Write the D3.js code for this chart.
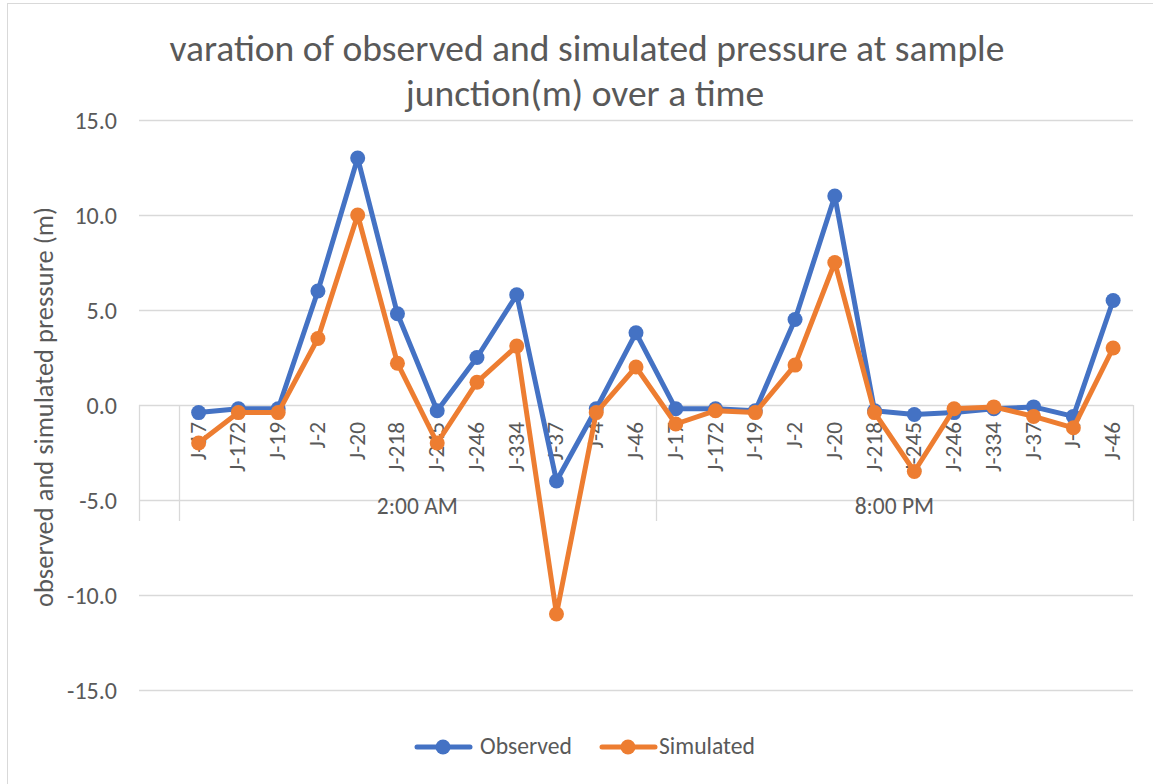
<!DOCTYPE html>
<html>
<head>
<meta charset="utf-8">
<script src="https://cdn.jsdelivr.net/npm/d3@7"></script>
<style>
  body { margin: 0; background: #fff; }
  text { font-family: Carlito, Calibri, Lato, "Open Sans", sans-serif; fill: #595959; }
</style>
</head>
<body>
<svg id="chart" width="1153" height="784"></svg>
<script>
// junction labels, first slot is a blank row in the sheet
var junctions = ["", "J-17", "J-172", "J-19", "J-2", "J-20", "J-218", "J-245", "J-246", "J-334", "J-37", "J-4", "J-46",
                 "J-17", "J-172", "J-19", "J-2", "J-20", "J-218", "J-245", "J-246", "J-334", "J-37", "J-4", "J-46"];
var groups = ["2:00 AM", "8:00 PM"];
var group_size = 12;

var observed = [null, -0.4, -0.2, -0.2, 6.0, 13.0, 4.8, -0.3, 2.5, 5.8, -4.0, -0.2, 3.8,
                -0.2, -0.2, -0.3, 4.5, 11.0, -0.3, -0.5, -0.4, -0.2, -0.1, -0.6, 5.5];
var simulated = [null, -2.0, -0.4, -0.4, 3.5, 10.0, 2.2, -2.0, 1.2, 3.1, -11.0, -0.4, 2.0,
                 -1.0, -0.3, -0.4, 2.1, 7.5, -0.4, -3.5, -0.2, -0.1, -0.6, -1.2, 3.0];
var y_ticks = [15, 10, 5, 0, -5, -10, -15];

var series = [
    { name: "Observed", values: observed, color: "#4472C4" },
    { name: "Simulated", values: simulated, color: "#ED7D31" }
];

var svg = d3.select("#chart");

// pick a font size so a text gets roughly the wanted length
function fit(sel, sample, want, weight) {
    var t = svg.append("text").style("font-size", "20px").style("font-weight", weight || 400).text(sample);
    var w = t.node().getComputedTextLength();
    t.remove();
    sel.style("font-size", (20 * want / w).toFixed(2) + "px");
}

// chart frame
svg.append("rect")
    .attr("x", 7.5).attr("y", 3.5)
    .attr("width", 1160).attr("height", 800)
    .attr("fill", "none").attr("stroke", "#D9D9D9");

var plot_left = 139, plot_right = 1133, plot_top = 120, plot_bottom = 690;

var x = d3.scaleBand()
    .domain(d3.range(junctions.length))
    .range([plot_left, plot_right]);

var y = d3.scaleLinear()
    .domain([-15, 15])
    .range([plot_bottom, plot_top]);

// title
var t1 = svg.append("text")
    .attr("x", 587).attr("y", 61)
    .attr("text-anchor", "middle")
    .style("font-weight", 300)
    .text("varation of observed and simulated pressure at sample");
fit(t1, t1.text(), 835, 300);
var t2 = svg.append("text")
    .attr("x", 585).attr("y", 106)
    .attr("text-anchor", "middle")
    .style("font-weight", 300)
    .style("font-size", t1.style("font-size"))
    .text("junction(m) over a time");

// gridlines
svg.append("g").selectAll("line")
    .data(y_ticks)
    .enter().append("line")
    .attr("x1", plot_left).attr("x2", plot_right)
    .attr("y1", function(d) { return Math.round(y(d)) + 0.5; })
    .attr("y2", function(d) { return Math.round(y(d)) + 0.5; })
    .attr("stroke", "#D9D9D9")
    .attr("stroke-width", 1.3);

// y axis labels (plain hyphen for minus like excel)
var yAxis = d3.axisLeft(y).tickValues(y_ticks).tickSize(0).tickPadding(0)
    .tickFormat(function(d) { return d.toFixed(1); });
var ya = svg.append("g").attr("transform", "translate(117,0)").call(yAxis);
ya.select(".domain").remove();
ya.attr("font-family", null).attr("font-size", null);
ya.selectAll("text")
    .attr("dy", "0.35em")
    .attr("fill", "#595959");
fit(ya.selectAll("text"), "-10.0", 50);

var ytitle = svg.append("text")
    .attr("transform", "translate(53,407) rotate(-90)")
    .attr("text-anchor", "middle")
    .text("observed and simulated pressure (m)");
fit(ytitle, ytitle.text(), 400);

// category dividers below zero line
var y0 = Math.round(y(0));
var dividers = [0, 1, 1 + group_size, junctions.length];
svg.append("g").selectAll("line")
    .data(dividers)
    .enter().append("line")
    .attr("x1", function(d) { return Math.round(plot_left + d * x.bandwidth()) + 0.5; })
    .attr("x2", function(d) { return Math.round(plot_left + d * x.bandwidth()) + 0.5; })
    .attr("y1", y0).attr("y2", 521)
    .attr("stroke", "#D9D9D9")
    .attr("stroke-width", 1.3);

// junction labels
var jl = svg.append("g").selectAll("text")
    .data(junctions)
    .enter().append("text")
    .attr("transform", function(d, i) {
        return "translate(" + (x(i) + x.bandwidth() / 2 + 7) + "," + (y0 + 17) + ") rotate(-90)";
    })
    .attr("text-anchor", "end")
    .text(function(d) { return d; });
fit(jl, "J-172", 50);

// time group labels
var gl = svg.append("g").selectAll("text")
    .data(groups)
    .enter().append("text")
    .attr("x", function(d, i) {
        var a = 1 + i * group_size;
        return plot_left + (a + group_size / 2) * x.bandwidth();
    })
    .attr("y", 514)
    .attr("text-anchor", "middle")
    .text(function(d) { return d; });
fit(gl, "2:00 AM", 81);

// lines and markers
var line = d3.line()
    .defined(function(d) { return d != null; })
    .x(function(d, i) { return x(i) + x.bandwidth() / 2; })
    .y(function(d) { return y(d); });

series.forEach(function(s) {
    svg.append("path")
        .datum(s.values)
        .attr("d", line)
        .attr("fill", "none")
        .attr("stroke", s.color)
        .attr("stroke-width", 5)
        .attr("stroke-linejoin", "round");
    svg.append("g").selectAll("circle")
        .data(s.values.map(function(v, i) { return { v: v, i: i }; })
            .filter(function(d) { return d.v != null; }))
        .enter().append("circle")
        .attr("cx", function(d) { return x(d.i) + x.bandwidth() / 2; })
        .attr("cy", function(d) { return y(d.v); })
        .attr("r", 7.5)
        .attr("fill", s.color);
});

// legend
var legend_x = [415, 600];
var lg = svg.append("g").selectAll("g")
    .data(series)
    .enter().append("g")
    .attr("transform", function(d, i) { return "translate(" + legend_x[i] + ",747)"; });
lg.append("line")
    .attr("x1", 2).attr("x2", 55)
    .attr("stroke", function(d) { return d.color; })
    .attr("stroke-width", 5)
    .attr("stroke-linecap", "round");
lg.append("circle")
    .attr("cx", 28).attr("r", 7.5)
    .attr("fill", function(d) { return d.color; });
var lt = lg.append("text")
    .attr("x", function(d, i) { return i == 0 ? 65 : 59; })
    .attr("y", 7)
    .text(function(d) { return d.name; });
fit(lt, "Observed", 92);
</script>
</body>
</html>
